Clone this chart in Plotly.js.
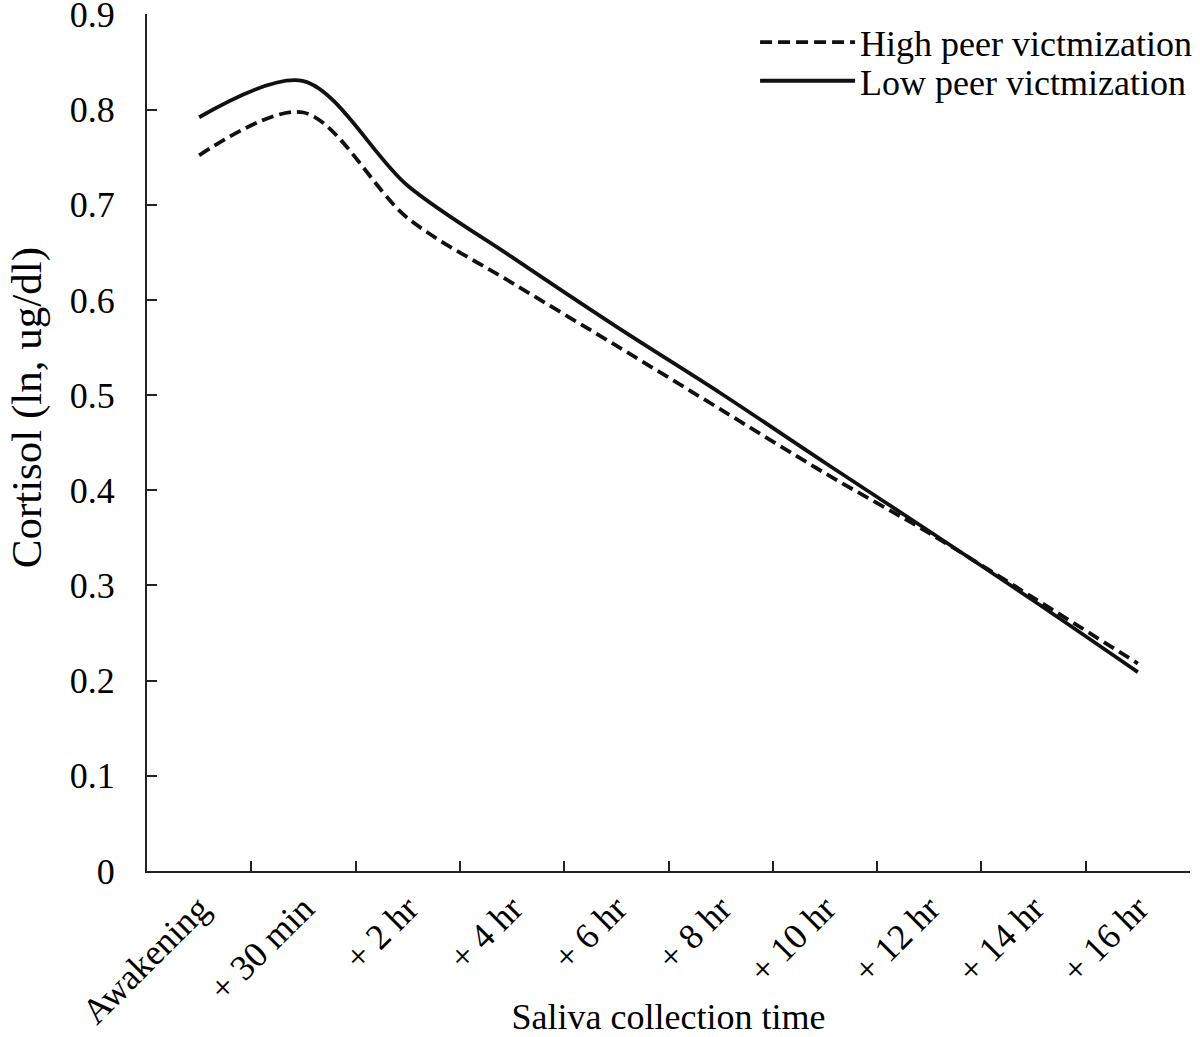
<!DOCTYPE html>
<html>
<head>
<meta charset="utf-8">
<script src="https://cdn.plot.ly/plotly-3.0.1.min.js"></script>
<style>html,body{margin:0;padding:0;background:#fff;}#chart{width:1200px;height:1037px;}</style>
</head>
<body>
<div id="chart"></div>
<script>
var categories = ["Awakening", "+ 30 min", "+ 2 hr", "+ 4 hr", "+ 6 hr", "+ 8 hr", "+ 10 hr", "+ 12 hr", "+ 14 hr", "+ 16 hr"];
var highPeer = [0.752, 0.797, 0.686, 0.618, 0.552, 0.485, 0.418, 0.355, 0.287, 0.218];
var lowPeer = [0.792, 0.830, 0.720, 0.645, 0.572, 0.502, 0.429, 0.357, 0.284, 0.209];
var yTicks = [0, 0.1, 0.2, 0.3, 0.4, 0.5, 0.6, 0.7, 0.8, 0.9];
var yTickText = ["0", "0.1", "0.2", "0.3", "0.4", "0.5", "0.6", "0.7", "0.8", "0.9"];
var yTitle = "Cortisol (ln, ug/dl)";
var xTitle = "Saliva collection time";

var fam = "Liberation Serif, Times New Roman, serif";
var font = {family: fam, size: 36, color: "#000"};

var traces = [
  {x: categories, y: highPeer, name: "High peer victmization", type: "scatter", mode: "lines",
   legend: "legend",
   line: {color: "#111", width: 3.8, dash: "12px,6px", shape: "spline", smoothing: 0.9}},
  {x: categories, y: lowPeer, name: "Low peer victmization", type: "scatter", mode: "lines",
   legend: "legend2",
   line: {color: "#111", width: 3.8, shape: "spline", smoothing: 0.9}}
];

var layout = {
  width: 1200, height: 1037,
  margin: {l: 147, r: 10, t: 14, b: 166, autoexpand: false},
  paper_bgcolor: "#fff", plot_bgcolor: "#fff",
  font: font,
  showlegend: true,
  legend: {x: 0.583, xanchor: "left", y: 0.967, yanchor: "middle", bgcolor: "rgba(0,0,0,0)",
           font: font, itemwidth: 95},
  legend2: {x: 0.583, xanchor: "left", y: 0.922, yanchor: "middle", bgcolor: "rgba(0,0,0,0)",
           font: font, itemwidth: 95},
  xaxis: {
    type: "category", categoryorder: "array", categoryarray: categories,
    range: [-0.5, 9.5], tickson: "boundaries",
    showline: true, linecolor: "#222", linewidth: 2,
    ticks: "inside", ticklen: 10, tickwidth: 2, tickcolor: "#222",
    showgrid: false, zeroline: false,
    tickangle: -45, tickfont: font, ticklabelstandoff: 0,
    title: {text: xTitle, font: font, standoff: 30}
  },
  yaxis: {
    range: [0, 0.9005], tickvals: yTicks, ticktext: yTickText,
    showline: true, linecolor: "#222", linewidth: 2,
    ticks: "inside", ticklen: 10, tickwidth: 2, tickcolor: "#222",
    showgrid: false, zeroline: false,
    tickfont: font, ticklabelstandoff: 23, ticklabeloverflow: "allow"
  },
  annotations: [
    {text: yTitle, xref: "paper", yref: "paper", x: -0.115, y: 0.54,
     xanchor: "center", yanchor: "middle", textangle: -90, showarrow: false,
     font: {family: fam, size: 43, color: "#000"}}
  ]
};

Plotly.newPlot("chart", traces, layout, {displayModeBar: false, staticPlot: true});
</script>
</body>
</html>
